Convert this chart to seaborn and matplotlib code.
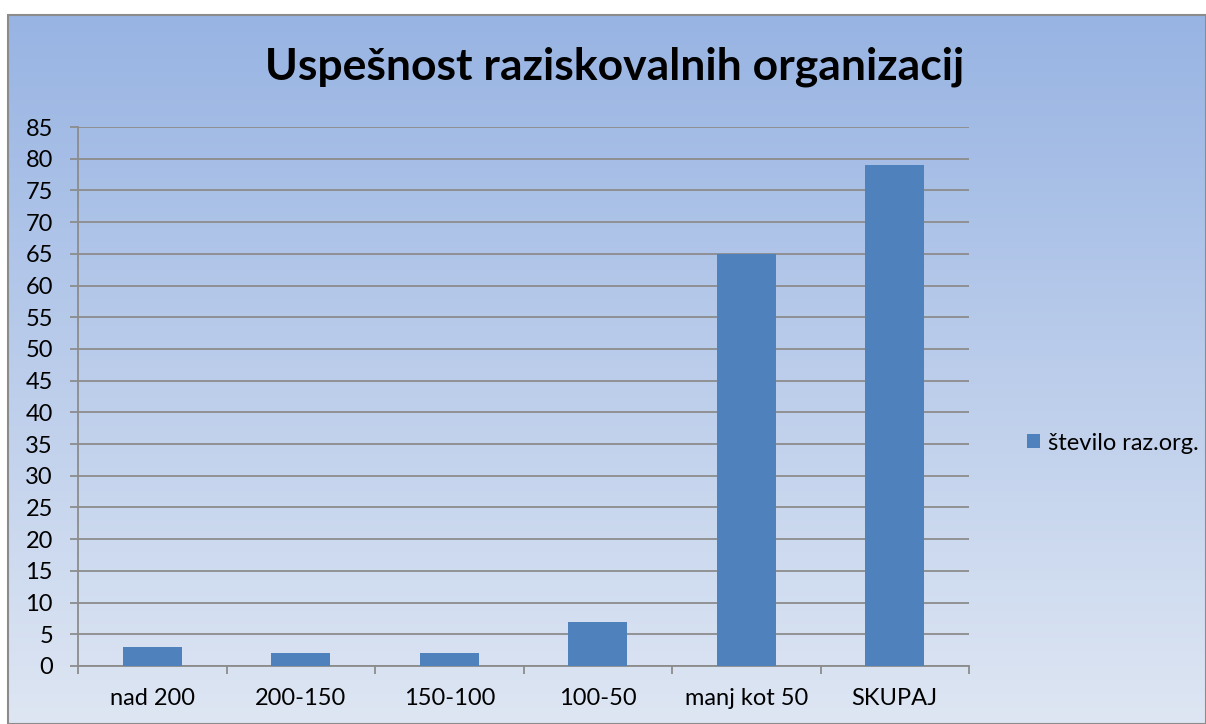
import numpy as np
import matplotlib
matplotlib.use("Agg")
import matplotlib.pyplot as plt
import seaborn as sns
from matplotlib.colors import LinearSegmentedColormap
from matplotlib.patches import Rectangle

# Data
categories = ['nad 200', '200-150', '150-100', '100-50', 'manj kot 50', 'SKUPAJ']
values = [3, 2, 2, 7, 65, 79]
series_name = 'število raz.org.'
y_ticks = list(range(0, 90, 5))

sns.set_theme(style='white')
plt.rcParams['font.family'] = ['Lato', 'DejaVu Sans']
plt.rcParams['text.color'] = 'black'
plt.rcParams['xtick.color'] = 'black'
plt.rcParams['ytick.color'] = 'black'

fig = plt.figure(figsize=(12.06, 7.24), dpi=100)

# Gradient background with a gray frame
bg = fig.add_axes([8 / 1206, 0, 1 - 8 / 1206, 1 - 15 / 724])
cmap = LinearSegmentedColormap.from_list('bg', ['#98B4E3', '#DEE6F3'])
bg.imshow(np.linspace(0, 1, 256).reshape(-1, 1), aspect='auto', cmap=cmap,
          extent=[0, 1, 0, 1], origin='upper')
bg.set_axis_off()
bg.add_patch(Rectangle((0, 0), 1, 1, transform=bg.transAxes, fill=False,
                       edgecolor='#8C8C8C', linewidth=1.5, clip_on=False))

ax = fig.add_axes([78 / 1206, 1 - 666 / 724, 891 / 1206, 539 / 724])
ax.patch.set_alpha(0)

sns.barplot(x=categories, y=values, color='#4F81BD', width=0.4, saturation=1,
            label=series_name, ax=ax, zorder=3, linewidth=0)

ax.set_ylim(0, 85)
ax.set_xlim(-0.5, len(categories) - 0.5)
ax.set_yticks(y_ticks)
ax.yaxis.grid(True, color='#8C8C8C', linewidth=1.3)
ax.set_axisbelow(True)

# x ticks at category boundaries
ax.set_xticks(np.arange(len(categories)))
ax.set_xticklabels(categories)
ax.set_xticks(np.arange(-0.5, len(categories)), minor=True)
ax.tick_params(axis='x', which='major', length=0, labelsize=17, pad=16,
               labelcolor='black')
ax.tick_params(axis='x', which='minor', length=6, width=1.3, color='#8C8C8C',
               direction='out', bottom=True)
ax.tick_params(axis='y', length=6, width=1.3, color='#8C8C8C', direction='out',
               labelsize=17, left=True, pad=12, labelcolor='black')

for side in ['top', 'right']:
    ax.spines[side].set_visible(False)
for side in ['left', 'bottom']:
    ax.spines[side].set_color('#8C8C8C')
    ax.spines[side].set_linewidth(1.3)

ax.set_xlabel('')
ax.set_ylabel('')

fig.text(615 / 1206, 1 - 67 / 724, 'Uspešnost raziskovalnih organizacij',
         ha='center', va='center', fontsize=32, fontweight='bold', color='black')

ax.legend(loc='center left', bbox_to_anchor=(1006 / 1206, 1 - 443 / 724),
          bbox_transform=fig.transFigure, frameon=False, fontsize=17,
          handlelength=0.55, handleheight=0.55, handletextpad=0.35)

fig.savefig('out.png', dpi=100)
